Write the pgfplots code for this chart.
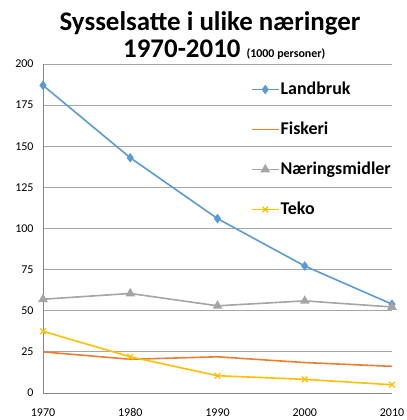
\documentclass[border=0pt]{standalone}
\usepackage{fontspec}
\setmainfont{Carlito}
\usepackage{pgfplots}
\pgfplotsset{compat=1.18}
\definecolor{cblue}{HTML}{5B9BD5}
\definecolor{fiskorange}{HTML}{ED7D31}
\definecolor{cgray}{HTML}{A5A5A5}
\definecolor{cyellow}{HTML}{FFC000}
\definecolor{gridgray}{HTML}{A6A6A6}
\definecolor{axgray}{HTML}{868686}
\begin{document}
\begin{tikzpicture}[x=1bp,y=1bp]
\path[use as bounding box] (0,0) rectangle (407,420);
\node[anchor=base,inner sep=0,font=\bfseries\fontsize{27}{27}\selectfont] at (210,389) {Sysselsatte i ulike næringer};
\node[anchor=base west,inner sep=0] at (123,363) {\bfseries\fontsize{27}{27}\selectfont 1970-2010 \fontsize{12}{12}\selectfont (1000 personer)};
\begin{axis}[
  at={(43bp,27bp)}, anchor=south west,
  scale only axis, width=349bp, height=329bp,
  xmin=1970, xmax=2010, ymin=0, ymax=200,
  xtick={1970,1980,1990,2000,2010},
  ytick={0,25,50,75,100,125,150,175,200},
  axis x line=bottom, axis y line=left,
  axis line style={-, color=axgray, line width=1bp},
  ymajorgrids, grid style={color=gridgray, line width=0.9bp},
  major tick length=0pt,
  /pgf/number format/1000 sep={},
  /pgf/number format/assume math mode=true,
  ticklabel style={font=\fontsize{12}{12}\selectfont, text=black},
  yticklabel style={xshift=-6bp},
  xticklabel style={yshift=-12bp},
  legend style={at={(1,0.955)}, anchor=north east, draw=none, fill=none,
    font=\bfseries\fontsize{18}{18}\selectfont, row sep=19bp, inner sep=0pt,
    nodes={text height=13bp, text depth=4bp, inner xsep=1bp, inner ysep=2bp}},
  legend cell align=left,
  legend image code/.code={\draw[#1, mark=none] (0bp,0bp) -- (27bp,0bp);
    \draw[#1, only marks] plot coordinates {(13.5bp,0bp)};},
  every axis plot/.append style={line width=1.6bp},
]
\addplot[color=cblue, mark=diamond*, mark size=3.5bp, mark options={fill=cblue}] coordinates {(1970,187) (1980,143) (1990,106) (2000,77.2) (2010,54)};
\addlegendentry{Landbruk}
\addplot[color=fiskorange, mark=none] coordinates {(1970,25) (1980,20.5) (1990,22) (2000,18.5) (2010,16.2)};
\addlegendentry{Fiskeri}
\addplot[color=cgray, mark=triangle*, mark size=4bp, mark options={fill=cgray}] coordinates {(1970,57) (1980,60.5) (1990,53) (2000,56) (2010,52.3)};
\addlegendentry{Næringsmidler}
\addplot[color=cyellow, mark=x, mark size=4bp, mark options={line width=1.2bp}] coordinates {(1970,37.5) (1980,22) (1990,10.5) (2000,8.3) (2010,5)};
\addlegendentry{Teko}
\end{axis}
\end{tikzpicture}
\end{document}
